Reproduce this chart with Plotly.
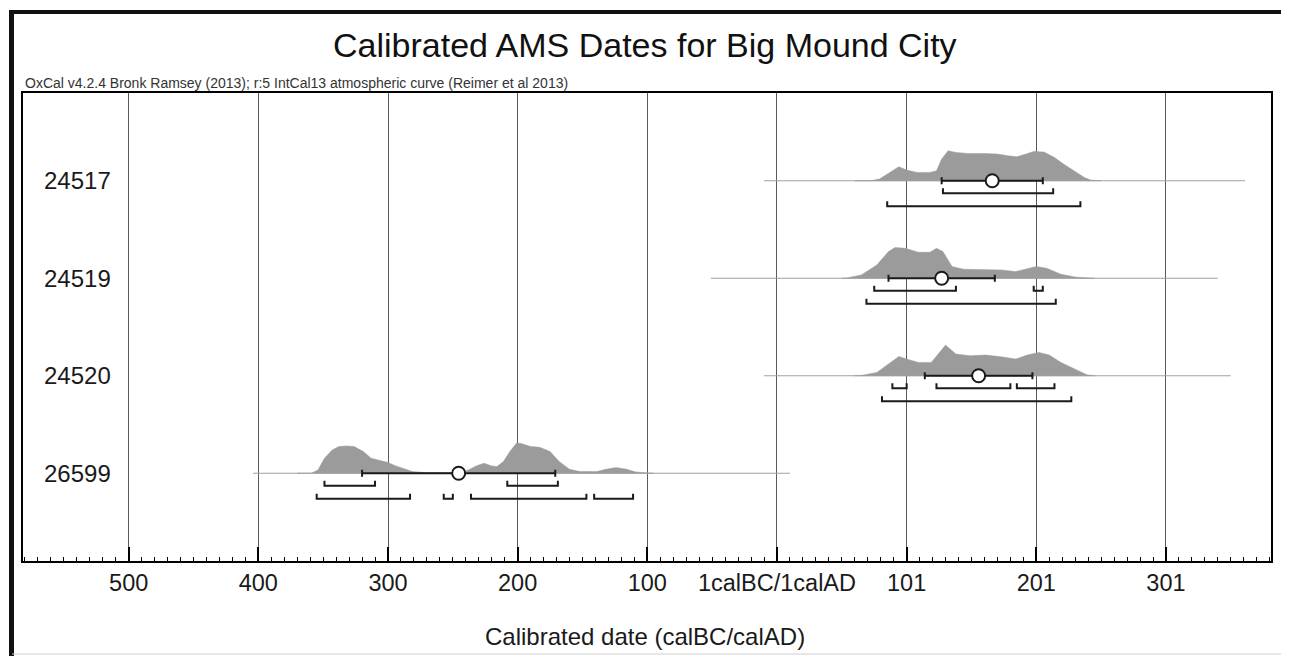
import plotly.graph_objects as go

# ---------------- data ----------------
labels = ["24517", "24519", "24520", "26599"]

# probability distributions: calendar year (negative = BC) and relative height
dist_years = [
    [60, 72, 79, 87, 94, 100, 108, 118, 123, 127, 132, 138, 147, 159, 170, 178, 185, 192, 198, 206, 214, 221, 229, 237, 242, 250],
    [50, 54, 65, 77, 86, 91, 99, 109, 118, 123, 128, 135, 144, 161, 173, 184, 193, 200, 208, 219, 231, 237, 245],
    [60, 65, 77, 86, 94, 100, 109, 119, 125, 130, 138, 149, 161, 173, 184, 193, 202, 210, 219, 231, 239, 245],
    [-370, -359, -354, -349, -343, -338, -332, -326, -319, -313, -306, -300, -294, -287, -281, -271, -255, -245,
     -238, -232, -226, -220, -216, -211, -206, -201, -198, -190, -183, -175, -168, -160, -152, -139, -132, -124,
     -116, -109, -100, -95],
]
dist_heights = [
    [0, 0, 5, 25, 42, 32, 25, 25, 30, 65, 90, 85, 82, 82, 80, 75, 72, 80, 88, 86, 70, 50, 30, 10, 2, 0],
    [0, 1, 10, 40, 80, 92, 90, 78, 78, 90, 80, 35, 27, 27, 25, 20, 28, 35, 30, 12, 3, 1, 0],
    [0, 1, 10, 35, 58, 50, 40, 40, 70, 92, 65, 60, 62, 57, 50, 62, 70, 62, 40, 18, 3, 0],
    [0, 0, 10, 45, 70, 80, 82, 80, 65, 45, 38, 32, 22, 12, 5, 2, 1, 1, 10, 22, 30, 22, 20, 35, 65, 90, 90, 80,
     78, 65, 35, 12, 5, 5, 12, 17, 12, 4, 1, 0],
]

# extent of the thin line behind each distribution
line_start = [-10, -51, -10, -404]
line_end = [361, 340, 350, 10]

# mean and sigma
means = [166, 127, 155.5, -245.5]
sigmas = [39, 41, 41.5, 74.5]

# 68.2% and 95.4% ranges
range_68 = [
    [(128, 213)],
    [(75, 138), (198, 205)],
    [(89, 100), (123, 180), (185, 214)],
    [(-349, -310), (-208, -169)],
]
range_95 = [
    [(85, 234)],
    [(69, 215)],
    [(81, 227)],
    [(-355, -283), (-257, -250), (-236, -147), (-141, -111)],
]

tick_vals = [-500, -400, -300, -200, -100, 0, 100, 200, 300]
tick_text = ["500", "400", "300", "200", "100", "1calBC/1calAD", "101", "201", "301"]

title_text = "Calibrated AMS Dates for Big Mound City"
subtitle_text = "OxCal v4.2.4 Bronk Ramsey (2013); r:5 IntCal13 atmospheric curve (Reimer et al 2013)"
xaxis_title = "Calibrated date (calBC/calAD)"

# ---------------- layout constants ----------------
OFFSET = 8                       # page body margin
W, H = 1289 - OFFSET, 656 - OFFSET
L_S, T_S = 23, 93                # plot area left/top in screen pixels
PW, PH = 1248, 468
L, T = L_S - OFFSET, T_S - OFFSET
R, B = W - L - PW, H - T - PH
ROW_PX = 97.5
PX = 1.0 / ROW_PX                # one pixel in y units
HSCALE = 30 * PX / 90            # relative height -> y units
OFF68, OFF95 = 12.5 * PX, 25.5 * PX
BTICK = 5 * PX
CAP = 3.5 * PX
FONT = "Liberation Sans, Arial, sans-serif"


def px_x(p):
    return (p - L_S) / PW


def px_y(p):
    return (T_S + PH - p) / PH


fig = go.Figure()

for i, lab in enumerate(labels):
    ys = dist_years[i]
    hs = dist_heights[i]
    # thin line
    fig.add_trace(go.Scatter(x=[line_start[i], line_end[i]], y=[i, i], mode="lines",
                             line=dict(color="#a0a0a0", width=1), hoverinfo="skip", showlegend=False))
    # distribution polygon
    px_ = list(ys) + [ys[-1], ys[0]]
    py_ = [i - h * HSCALE for h in hs] + [i, i]
    fig.add_trace(go.Scatter(x=px_, y=py_, mode="lines", fill="toself", fillcolor="#9b9b9b",
                             line=dict(color="#9b9b9b", width=0.5), hoverinfo="skip", showlegend=False))
    # brackets
    bx, by = [], []
    for off, segs in ((OFF68, range_68[i]), (OFF95, range_95[i])):
        for a, b in segs:
            yb = i + off
            bx += [a, a, b, b, None]
            by += [yb - BTICK, yb, yb, yb - BTICK, None]
    fig.add_trace(go.Scatter(x=bx, y=by, mode="lines", line=dict(color="#1a1a1a", width=2),
                             hoverinfo="skip", showlegend=False))
    # error bar
    lo, hi = means[i] - sigmas[i], means[i] + sigmas[i]
    fig.add_trace(go.Scatter(x=[lo, hi, None, lo, lo, None, hi, hi],
                             y=[i, i, None, i - CAP, i + CAP, None, i - CAP, i + CAP],
                             mode="lines", line=dict(color="#1a1a1a", width=2),
                             hoverinfo="skip", showlegend=False))
    # mean
    fig.add_trace(go.Scatter(x=[means[i]], y=[i], mode="markers",
                             marker=dict(symbol="circle", size=13, color="white",
                                         line=dict(color="#1a1a1a", width=2)),
                             hoverinfo="skip", showlegend=False))
    # row label
    fig.add_annotation(x=px_x(42), y=i, xref="paper", yref="y", text=lab, showarrow=False,
                       xanchor="left", yanchor="middle", font=dict(family=FONT, size=24, color="#1a1a1a"))

x0 = -581.5
x1 = 381.0

fig.update_xaxes(range=[x0, x1], tickmode="array", tickvals=tick_vals, ticktext=tick_text,
                 showgrid=True, gridcolor="#5a5a5a", gridwidth=1, zeroline=False,
                 showline=True, linecolor="black", linewidth=2, mirror=True,
                 ticks="inside", ticklen=14, tickwidth=2, tickcolor="black",
                 tickfont=dict(family=FONT, size=23.5, color="#1a1a1a"),
                 minor=dict(tickmode="linear", tick0=0, dtick=10, ticks="inside", ticklen=4,
                            tickwidth=1, tickcolor="black", showgrid=False),
                 layer="above traces")
fig.update_yaxes(range=[3 + 87.75 * PX, -87.75 * PX], showgrid=False, zeroline=False,
                 showticklabels=False, showline=True, linecolor="black", linewidth=2, mirror=True,
                 ticks="")

# title, subtitle, axis title
fig.add_annotation(x=px_x(645), y=px_y(45), xref="paper", yref="paper", text=title_text,
                   showarrow=False, xanchor="center", yanchor="middle",
                   font=dict(family=FONT, size=34, color="#111111"))
fig.add_annotation(x=px_x(23), y=px_y(93), xref="paper", yref="paper", text=subtitle_text,
                   showarrow=False, xanchor="left", yanchor="bottom",
                   font=dict(family=FONT, size=14, color="#333333"))
fig.add_annotation(x=px_x(645), y=px_y(636), xref="paper", yref="paper", text=xaxis_title,
                   showarrow=False, xanchor="center", yanchor="middle",
                   font=dict(family=FONT, size=24, color="#1a1a1a"))

# outer frame
shape_line = dict(color="#111111", width=5)
fig.add_shape(type="line", xref="paper", yref="paper", x0=px_x(11.5), x1=px_x(11.5),
              y0=px_y(10), y1=px_y(660), line=shape_line)
fig.add_shape(type="line", xref="paper", yref="paper", x0=px_x(9), x1=px_x(1289),
              y0=px_y(12), y1=px_y(12), line=dict(color="#111111", width=4))
fig.add_shape(type="line", xref="paper", yref="paper", x0=px_x(1286.5), x1=px_x(1286.5),
              y0=px_y(10), y1=px_y(660), line=shape_line)
fig.add_shape(type="line", xref="paper", yref="paper", x0=px_x(12), x1=px_x(1286),
              y0=px_y(654), y1=px_y(654), line=dict(color="#d0d0d0", width=1))

fig.update_layout(width=W, height=H, margin=dict(l=L, r=R, t=T, b=B),
                  plot_bgcolor="white", paper_bgcolor="white", showlegend=False)

fig.write_html("out.html")
